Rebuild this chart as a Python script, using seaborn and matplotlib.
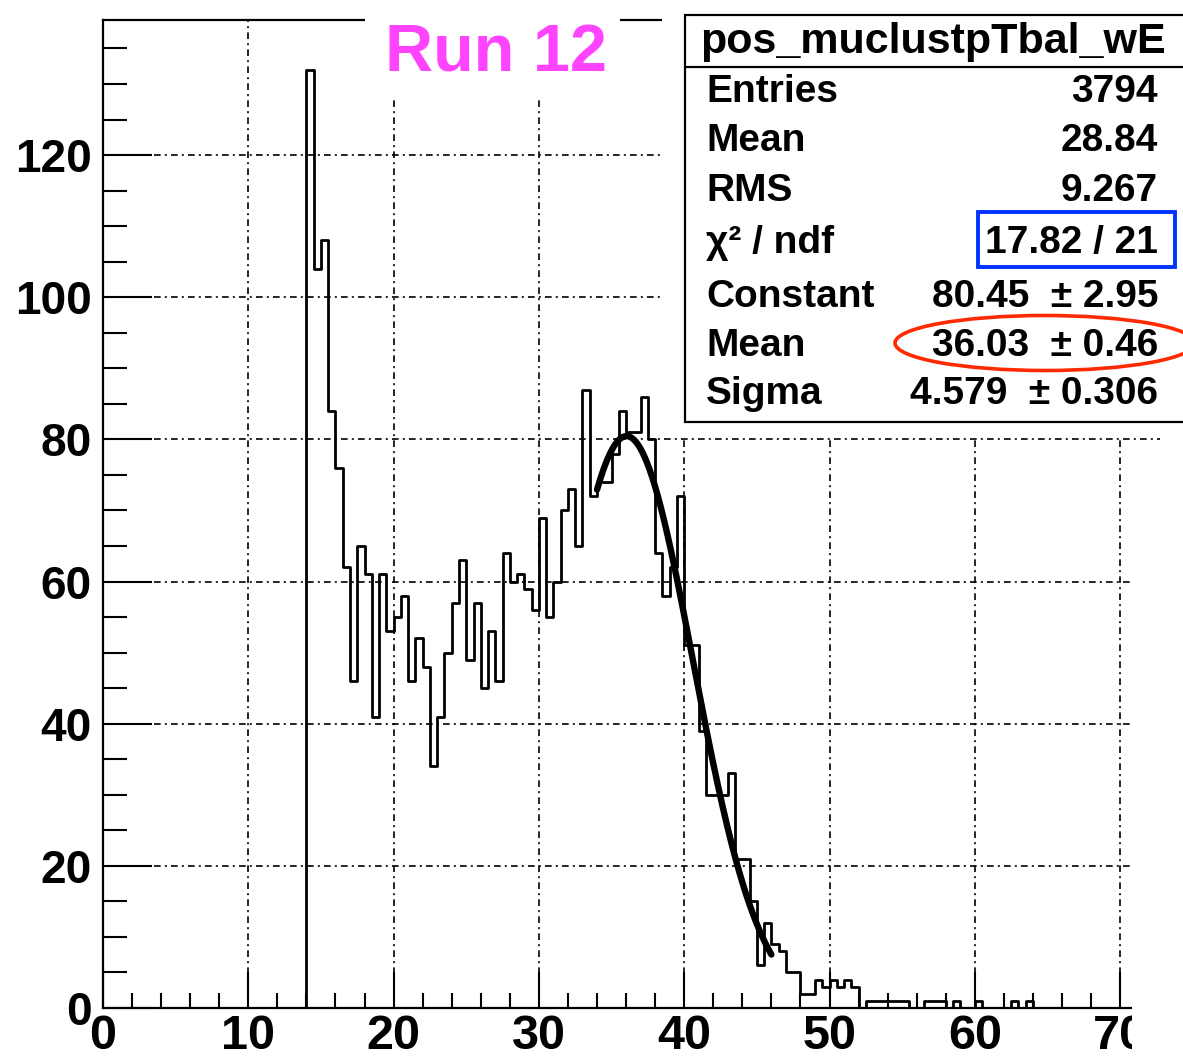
import numpy as np
import pandas as pd
import matplotlib
matplotlib.use('Agg')
import matplotlib.pyplot as plt
import seaborn as sns
from matplotlib.patches import Rectangle, Ellipse
from matplotlib.ticker import MultipleLocator

# histogram: bins of 0.5 starting at 14.0
bin_lo = 14.0
bin_width = 0.5
counts = [132, 104, 108, 84, 76, 62, 46, 65, 61, 41, 61, 53,   # 14.0 - 19.5
          55, 58, 46, 52, 48, 34, 41, 50, 57, 63,              # 20.0 - 24.5
          49, 57, 45, 53, 46, 64, 60, 61, 59, 56,              # 25.0 - 29.5
          69, 55, 60, 70, 73, 65, 87, 72, 74, 74,              # 30.0 - 34.5
          78, 84, 81, 81, 86, 80, 64, 58, 62, 72,              # 35.0 - 39.5
          51, 51, 39, 30, 30, 30, 33, 21, 21, 15,              # 40.0 - 44.5
          6, 12, 9, 8, 5, 5, 2, 2, 4, 3,                       # 45.0 - 49.5
          4, 3, 4, 3, 0, 1, 1, 1, 1, 1,                        # 50.0 - 54.5
          1, 0, 0, 1, 1, 1, 0, 1, 0, 0,                        # 55.0 - 59.5
          1, 0, 0, 0, 0, 1, 0, 1]                              # 60.0 - 63.5

# gaussian fit (values from the stat box)
fit_const = 80.45
fit_mean = 36.03
fit_sigma = 4.579
fit_lo, fit_hi = 34.0, 46.0

title_text = 'Run 12'
stat_name = 'pos_muclustpTbal_wE'
stat_labels = ['Entries', 'Mean', 'RMS', '\u03c7\u00b2 / ndf', 'Constant', 'Mean', 'Sigma']
stat_values = ['3794', '28.84', '9.267', '17.82 / 21',
               '80.45  \u00b1 2.95', '36.03  \u00b1 0.46', '4.579  \u00b1 0.306']

W, H = 1183, 1061


def fx(px):
    return px / W


def fy(py):
    return 1 - py / H


bin_hi = bin_lo + bin_width * len(counts)
df = pd.DataFrame({'x': bin_lo + bin_width * (np.arange(len(counts)) + 0.5), 'n': counts})

xf = np.linspace(fit_lo, fit_hi, 300)
df_fit = pd.DataFrame({'x': xf,
                       'y': fit_const * np.exp(-0.5 * ((xf - fit_mean) / fit_sigma) ** 2)})

sns.set_style('ticks')
plt.rcParams['font.family'] = ['Liberation Sans', 'DejaVu Sans']
plt.rcParams['font.weight'] = 'bold'
for k in ['text.color', 'xtick.color', 'ytick.color', 'axes.edgecolor', 'axes.labelcolor']:
    plt.rcParams[k] = 'black'

fig = plt.figure(figsize=(W / 100, H / 100), dpi=100)
ax = fig.add_axes([fx(103), fy(1008), fx(1160) - fx(103), fy(20) - fy(1008)])

# one empty bin on each side so the outline starts and ends at zero
sns.histplot(data=df, x='x', weights='n', binwidth=bin_width,
             binrange=(bin_lo - bin_width, bin_hi + bin_width),
             element='step', fill=False, color='black', linewidth=2.0, ax=ax)
sns.lineplot(data=df_fit, x='x', y='y', color='black', linewidth=4.6, ax=ax)

ax.set_xlim(0, (1160 - 103) / 14.53)
ax.set_ylim(0, (1008 - 20) / 7.108)
ax.set_xlabel('')
ax.set_ylabel('')

ax.xaxis.set_major_locator(MultipleLocator(10))
ax.xaxis.set_minor_locator(MultipleLocator(2))
ax.yaxis.set_major_locator(MultipleLocator(20))
ax.yaxis.set_minor_locator(MultipleLocator(5))
ax.tick_params(axis='x', which='major', direction='in', length=26, width=1.5,
               labelsize=35, pad=4, top=False)
ax.tick_params(axis='x', which='minor', direction='in', length=11, width=1.5, top=False)
ax.tick_params(axis='y', which='major', direction='in', length=35, width=1.5,
               labelsize=33, pad=8, right=False)
ax.tick_params(axis='y', which='minor', direction='in', length=17, width=1.5, right=False)
for lab in ax.get_xticklabels() + ax.get_yticklabels():
    lab.set_fontweight('bold')

ax.grid(True, which='major', color='black', linewidth=1.2, linestyle=(0, (4, 2.5, 1.2, 2.5)))
for s in ['left', 'bottom', 'top']:
    ax.spines[s].set_linewidth(1.6)
    ax.spines[s].set_color('black')
ax.spines['right'].set_visible(False)

# white areas from the pasted picture
fig.add_artist(Rectangle((fx(1132), fy(1061)), fx(60), fy(445) - fy(1061),
                         transform=fig.transFigure, facecolor='white', edgecolor='none', zorder=5))
fig.add_artist(Rectangle((fx(662), fy(437)), fx(540), fy(0) - fy(437),
                         transform=fig.transFigure, facecolor='white', edgecolor='none', zorder=5))
fig.add_artist(Rectangle((fx(365), fy(100)), fx(255), fy(0) - fy(100),
                         transform=fig.transFigure, facecolor='white', edgecolor='none', zorder=5))
fig.text(fx(496), fy(55), title_text, color='#ff44ff', fontsize=48, fontweight='bold',
         ha='center', va='center', zorder=6)

# stat box
fig.add_artist(Rectangle((fx(685), fy(422)), fx(520), fy(15) - fy(422),
                         transform=fig.transFigure, facecolor='white', edgecolor='black',
                         linewidth=1.6, zorder=6))
fig.add_artist(plt.Line2D([fx(685), fx(1190)], [fy(67), fy(67)], transform=fig.transFigure,
                          color='black', linewidth=1.6, zorder=7))
fig.text(fx(933), fy(42), stat_name, fontsize=31, fontweight='bold', ha='center', va='center', zorder=8)
row_y = [92, 141, 191, 243, 297, 346, 394]
for lab, val, yy in zip(stat_labels, stat_values, row_y):
    fig.text(fx(706), fy(yy), lab, fontsize=28, fontweight='bold', ha='left', va='center', zorder=8)
    fig.text(fx(1158), fy(yy), val, fontsize=28, fontweight='bold', ha='right', va='center', zorder=8)

fig.add_artist(Rectangle((fx(978), fy(267)), fx(197), fy(212) - fy(267),
                         transform=fig.transFigure, facecolor='none', edgecolor='#0033ff',
                         linewidth=2.8, zorder=9))
fig.add_artist(Ellipse((fx(1045), fy(343)), fx(300), fy(0) - fy(55),
                       transform=fig.transFigure, facecolor='none', edgecolor='#ff2a00',
                       linewidth=2.6, zorder=9))

fig.savefig('out.png', dpi=100)
